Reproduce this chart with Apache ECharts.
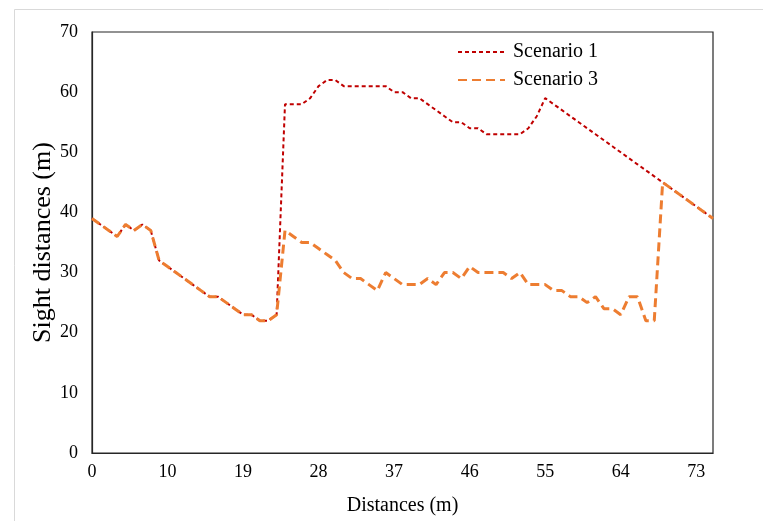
<!DOCTYPE html>
<html>
<head>
<meta charset="utf-8">
<script src="https://cdn.jsdelivr.net/npm/echarts@6/dist/echarts.min.js"></script>
<style>html,body{margin:0;padding:0;background:#fff}#c{width:763px;height:521px}</style>
</head>
<body>
<div id="c"></div>
<script>
var categories = [0,2,3,4,5,6,7,8,9,10,11,12,13,14,15,16,17,18,19,20,21,22,23,24,25,26,27,28,29,30,31,32,33,34,35,36,37,38,39,40,41,42,43,44,45,46,47,48,49,50,51,52,53,54,55,56,57,58,59,60,61,62,63,64,65,66,67,68,69,70,71,72,73,74,75];
var scenario1 = [39,38,37,36,38,37,38,37,32,31,30,29,28,27,26,26,25,24,23,23,22,22,23,
  58,58,58,59,61,62,62,61,61,61,61,61,61,60,60,59,59,58,57,56,55,55,54,54,53,53,53,53,53,54,56,59,
  58,57,56,55,54,53,52,51,50,49,48,47,46,45,44,43,42,41,40,39];
var scenario3 = [39,38,37,36,38,37,38,37,32,31,30,29,28,27,26,26,25,24,23,23,22,22,23,
  37,36,35,35,34,33,32,30,29,29,28,27,30,29,28,28,28,29,28,30,30,29,31,30,30,30,30,29,30,28,28,28,
  27,27,26,26,25,26,24,24,23,26,26,22,22,45,44,43,42,41,40,39];
var yTicks = [0,10,20,30,40,50,60,70];

var font = "'Liberation Serif','Times New Roman',serif";
var chart = echarts.init(document.getElementById('c'));
chart.setOption({
  animation: false,
  backgroundColor: '#fff',
  graphic: [{
    type: 'rect', shape: {x: 14.5, y: 9.5, width: 800, height: 600},
    style: {fill: 'none', stroke: '#d9d9d9', lineWidth: 1}, silent: true, z: -10
  }],
  grid: {left: 92, top: 32, width: 621, height: 421, show: true, borderColor: '#262626', borderWidth: 1.2, backgroundColor: 'transparent'},
  legend: {
    orient: 'vertical', left: 452, top: 37, itemWidth: 47, itemHeight: 14, itemGap: 8,
    itemStyle: {opacity: 0},
    textStyle: {fontFamily: font, fontSize: 20, color: '#000', padding: [0, 0, 0, 3]},
    data: ['Scenario 1', 'Scenario 3']
  },
  xAxis: {
    type: 'category', data: categories, boundaryGap: false,
    axisLine: {show: true, lineStyle: {color: '#262626', width: 1.2}},
    axisTick: {show: false},
    axisLabel: {interval: 8, fontFamily: font, fontSize: 18, color: '#000', margin: 10},
    name: 'Distances (m)', nameLocation: 'middle', nameGap: 43, nameMoveOverlap: false,
    nameTextStyle: {fontFamily: font, fontSize: 20, color: '#000'}
  },
  yAxis: {
    type: 'value', min: 0, max: 70, interval: 10,
    axisLine: {show: true, lineStyle: {color: '#262626', width: 1.2}},
    axisTick: {show: false},
    splitLine: {show: false},
    axisLabel: {fontFamily: font, fontSize: 18, color: '#000', margin: 14,
      formatter: function(v){ return yTicks.indexOf(v) >= 0 ? String(v) : ''; }},
    name: 'Sight distances (m)', nameLocation: 'middle', nameGap: 36, nameMoveOverlap: false,
    nameTextStyle: {fontFamily: font, fontSize: 26, color: '#000'}
  },
  series: [
    {name: 'Scenario 1', type: 'line', data: scenario1, symbol: 'none', showSymbol: false,
     lineStyle: {color: '#C00000', width: 2, type: [4, 3]}, itemStyle: {color: '#C00000'}, z: 2},
    {name: 'Scenario 3', type: 'line', data: scenario3, symbol: 'none', showSymbol: false,
     lineStyle: {color: '#ED7D31', width: 3, type: [9, 5]}, itemStyle: {color: '#ED7D31'}, z: 3}
  ]
});
</script>
</body>
</html>
